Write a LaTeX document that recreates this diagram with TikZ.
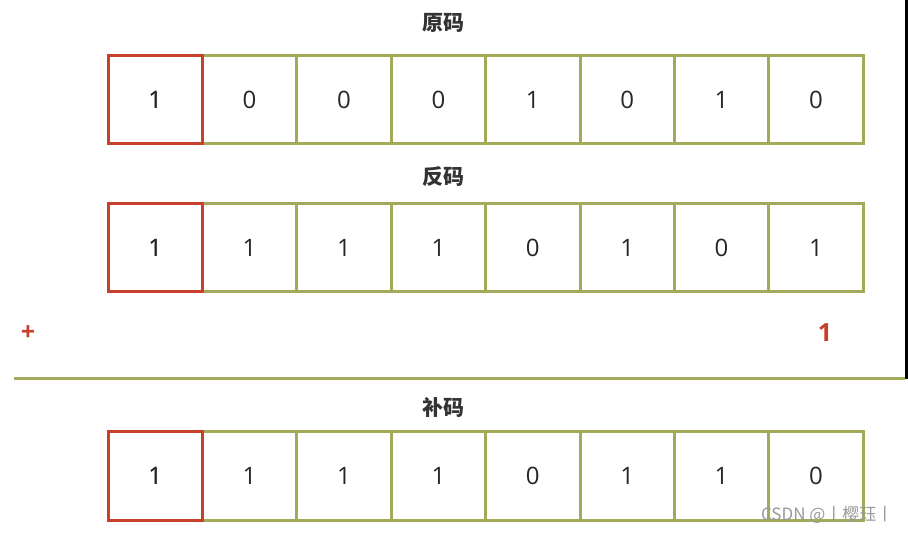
\documentclass[tikz,border=0pt]{standalone}
\usepackage{fontspec}
\setmainfont{Open Sans}
\newfontfamily\cjk{Noto Sans CJK SC}
\definecolor{boxgreen}{HTML}{A3AA5A}
\definecolor{boxred}{HTML}{C8402A}
\tikzset{
  cell/.style={draw=boxgreen, line width=3pt, minimum width=94.4pt, minimum height=88pt, inner sep=0pt, font=\fontsize{24}{28}\selectfont, text=black!85},
  signcell/.style={cell, draw=boxred},
  rowtitle/.style={font=\cjk\bfseries\fontsize{21}{24}\selectfont, text=black!80},
  redmark/.style={text=boxred, font=\bfseries\fontsize{25}{28}\selectfont},
  sepline/.style={draw=boxgreen, line width=3pt},
  watermark/.style={text=black!40, font=\cjk\fontsize{17}{20}\selectfont}
}
\begin{document}
\begin{tikzpicture}[x=1pt,y=-1pt]
\path[use as bounding box] (0,0) rectangle (908,534);
\fill[black] (904.5,0) rectangle (908,379);
% titles
\node[rowtitle] (t1) at (443,23) {原码};
\node[rowtitle] (t2) at (443,177) {反码};
\node[rowtitle] (t3) at (443,407) {补码};
% rows
\foreach \v [count=\i] in {1,0,0,0,1,0,1,0}
  \node[cell] (a\i) at ({155.2+94.4*(\i-1)},100) {\v};
\foreach \v [count=\i] in {1,1,1,1,0,1,0,1}
  \node[cell] (b\i) at ({155.2+94.4*(\i-1)},247.5) {\v};
\foreach \v [count=\i] in {1,1,1,1,0,1,1,0}
  \node[cell] (c\i) at ({155.2+94.4*(\i-1)},476) {\v};
\node[signcell] (a1r) at (a1) {1};
\node[signcell] (b1r) at (b1) {1};
\node[signcell] (c1r) at (c1) {1};
% plus one
\node[redmark] (plus) at (28,333) {+};
\node[redmark] (one) at (825,333) {1};
% separator
\coordinate (sepL) at (14,379);
\coordinate (sepR) at (905,379);
\draw[sepline] (sepL) -- (sepR);
% watermark
\node[watermark, anchor=east] (wm) at (897,515) {CSDN @丨樱珏丨};
\end{tikzpicture}
\end{document}
